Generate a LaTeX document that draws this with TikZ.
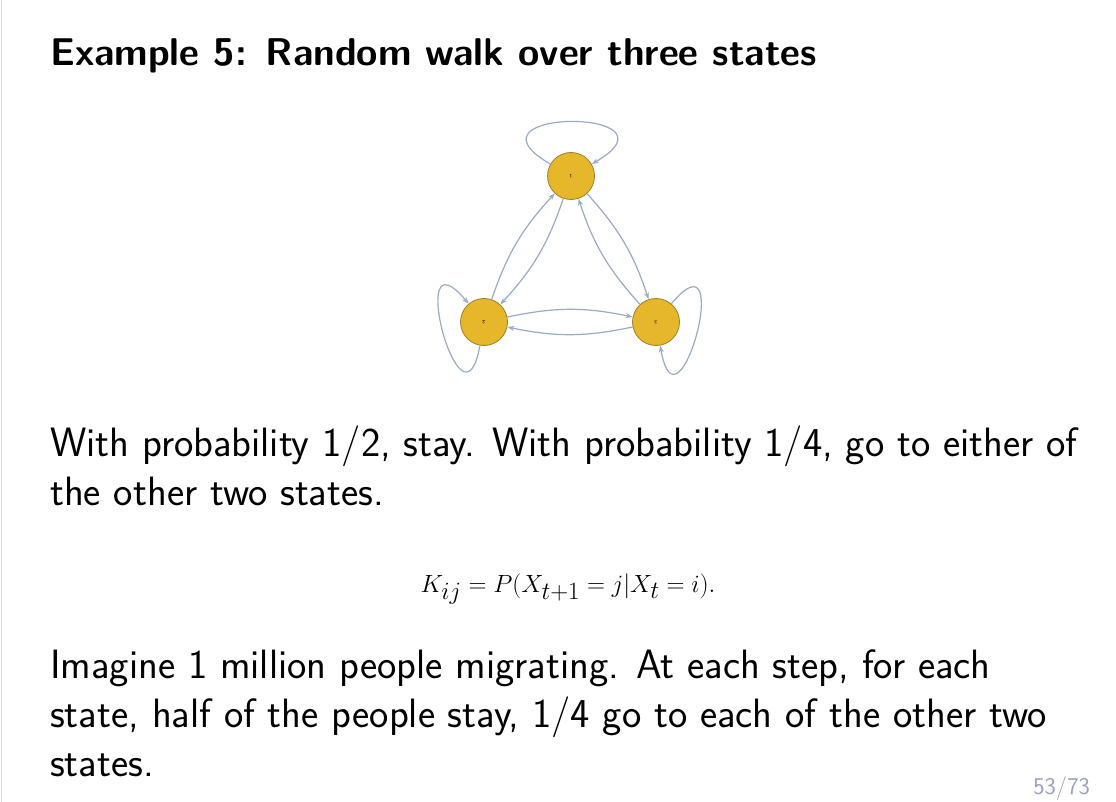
\documentclass[tikz,border=0pt]{standalone}
\usetikzlibrary{arrows.meta}
\definecolor{edgec}{HTML}{9AABC6}
\definecolor{nodec}{HTML}{E6B72B}
\definecolor{nodeb}{HTML}{9C7F2A}
\definecolor{pgc}{HTML}{9AA0C0}
\begin{document}
\begin{tikzpicture}[x=1pt,y=-1pt,
  st/.style={circle,fill=nodec,draw=nodeb,line width=0.8pt,minimum size=47pt,inner sep=0pt,font=\fontsize{5}{5}\selectfont},
  ed/.style={draw=edgec,line width=1.2pt,-{Stealth[length=7pt,width=5pt]}},
  txt/.style={anchor=base west,inner sep=0pt,font=\sffamily\fontsize{41}{48}\selectfont}]
\useasboundingbox (0,0) rectangle (1116,802);
\fill[white] (0,0) rectangle (1116,802);
\draw[pgc!40,line width=1pt] (1,0) -- (1,802);
\node[txt,font=\sffamily\bfseries\fontsize{38.7}{44}\selectfont] (title) at (50,66) {Example 5: Random walk over three states};
\node[st] (n1) at (571,176) {\rotatebox{180}{1}};
\node[st] (n2) at (484,322) {\rotatebox{180}{2}};
\node[st] (n3) at (656,322) {\rotatebox{180}{3}};
\draw[ed] (n1) to[bend left=12] (n3);
\draw[ed] (n3) to[bend left=12] (n1);
\draw[ed] (n1) to[bend left=12] (n2);
\draw[ed] (n2) to[bend left=12] (n1);
\draw[ed] (n2) to[bend left=12] (n3);
\draw[ed] (n3) to[bend left=12] (n2);
\draw[ed] (n1) to[out=150,in=30,looseness=7] (n1);
\draw[ed] (n2) to[out=260,in=130,looseness=6] (n2);
\draw[ed] (n3) to[out=50,in=280,looseness=6] (n3);
\node[txt] (l1) at (50,456) {With probability 1/2, stay. With probability 1/4, go to either of};
\node[txt] (l2) at (50,505) {the other two states.};
\node[anchor=base,inner sep=0pt,font=\fontsize{49.5}{56}\selectfont] (eq) at (568,592) {$K_{ij}=P(X_{t+1}=j|X_t=i).$};
\node[txt] (l3) at (50,678) {Imagine 1 million people migrating. At each step, for each};
\node[txt] (l4) at (50,727) {state, half of the people stay, 1/4 go to each of the other two};
\node[txt] (l5) at (50,776) {states.};
\node[anchor=base east,inner sep=0pt,text=pgc,font=\sffamily\fontsize{24}{28}\selectfont] (pg) at (1090,794) {53/73};
\end{tikzpicture}
\end{document}
